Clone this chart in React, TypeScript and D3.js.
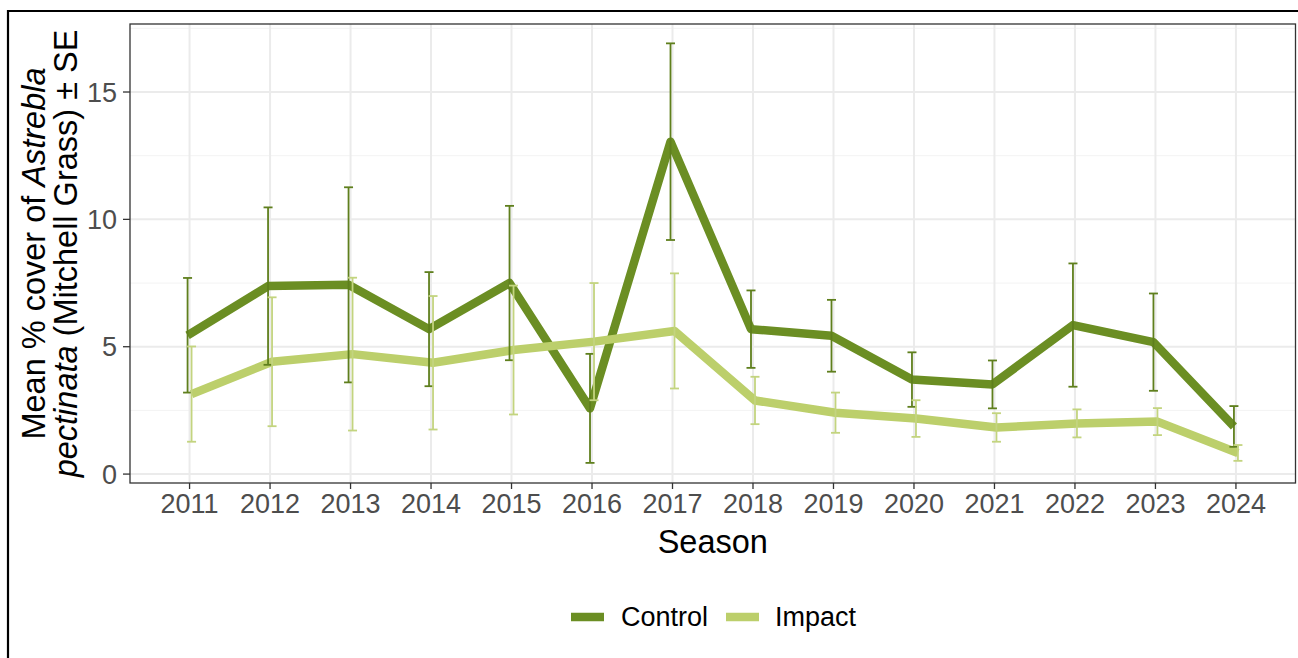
import React from "react";
import * as d3 from "d3";

// Survey seasons and mean % cover (± SE) of Astrebla pectinata per treatment
const seasons = ["2011", "2012", "2013", "2014", "2015", "2016", "2017", "2018", "2019", "2020", "2021", "2022", "2023", "2024"];
const controlMean = [5.45, 7.38, 7.43, 5.69, 7.5, 2.58, 13.05, 5.69, 5.43, 3.71, 3.52, 5.85, 5.18, 1.87];
const controlSE = [2.25, 3.09, 3.83, 2.24, 3.03, 2.14, 3.86, 1.52, 1.41, 1.07, 0.94, 2.42, 1.91, 0.8];
const impactMean = [3.14, 4.41, 4.71, 4.37, 4.87, 5.2, 5.62, 2.89, 2.41, 2.18, 1.83, 1.99, 2.06, 0.83];
const impactSE = [1.87, 2.53, 3.0, 2.62, 2.53, 2.3, 2.26, 0.93, 0.79, 0.72, 0.56, 0.55, 0.53, 0.31];
const yTicks = [0, 5, 10, 15];
const yMinor = [2.5, 7.5, 12.5, 17.5];

const W = 1298;
const H = 658;
const panel = { left: 130, right: 1295.5, top: 24, bottom: 483 };
const FONT = "'Liberation Sans', Arial, sans-serif";

const series = [
  { name: "Control", mean: controlMean, se: controlSE, line: "#6b8e23", bar: "#5f7f1d", dx: -2 },
  { name: "Impact", mean: impactMean, se: impactSE, line: "#bccf6b", bar: "#c3d47f", dx: 2 },
];

export default function App() {
  const x = d3.scalePoint<string>().domain(seasons).range([panel.left, panel.right]).padding(0.74);
  const y = d3.scaleLinear().domain([-0.35, 17.67]).range([panel.bottom, panel.top]);

  const lineGen = (dx: number) =>
    d3
      .line<number>()
      .x((_, i) => (x(seasons[i]) as number) + dx)
      .y((d) => y(d));

  const capHalf = 4.5;
  const cx = (panel.left + panel.right) / 2;
  const cy = (panel.top + panel.bottom) / 2;

  return (
    <svg
      width={W}
      height={H}
      style={{ position: "absolute", left: 0, top: 0, background: "#ffffff" }}
      fontFamily={FONT}
    >
      <rect x={0} y={0} width={W} height={H} fill="#ffffff" />
      {/* outer frame */}
      <line x1={8} x2={8} y1={10} y2={H} stroke="#000" strokeWidth={2.2} />
      <line x1={7} x2={W} y1={11} y2={11} stroke="#000" strokeWidth={2.2} />

      {/* grid */}
      <g>
        {yMinor.map((v) => (
          <line key={"ym" + v} x1={panel.left} x2={panel.right} y1={y(v)} y2={y(v)} stroke="#f3f3f3" strokeWidth={1} />
        ))}
        {yTicks.map((v) => (
          <line key={"yg" + v} x1={panel.left} x2={panel.right} y1={y(v)} y2={y(v)} stroke="#ebebeb" strokeWidth={2} />
        ))}
        {seasons.map((s) => (
          <line key={"xg" + s} x1={x(s)} x2={x(s)} y1={panel.top} y2={panel.bottom} stroke="#ebebeb" strokeWidth={2} />
        ))}
      </g>

      {/* mean lines */}
      {series.map((sr) => (
        <path
          key={"l" + sr.name}
          d={lineGen(sr.dx)(sr.mean) as string}
          fill="none"
          stroke={sr.line}
          strokeWidth={8.5}
          strokeLinejoin="round"
        />
      ))}

      {/* SE error bars */}
      {series.map((sr) => (
        <g key={"e" + sr.name} stroke={sr.bar} strokeWidth={1.8}>
          {sr.mean.map((m, i) => {
            const px = (x(seasons[i]) as number) + sr.dx;
            const hi = y(m + sr.se[i]);
            const lo = y(m - sr.se[i]);
            return (
              <g key={i}>
                <line x1={px} x2={px} y1={hi} y2={lo} />
                <line x1={px - capHalf} x2={px + capHalf} y1={hi} y2={hi} />
                <line x1={px - capHalf} x2={px + capHalf} y1={lo} y2={lo} />
              </g>
            );
          })}
        </g>
      ))}

      {/* panel border */}
      <rect
        x={panel.left}
        y={panel.top}
        width={panel.right - panel.left}
        height={panel.bottom - panel.top}
        fill="none"
        stroke="#333333"
        strokeWidth={1.3}
      />

      {/* y axis */}
      <g>
        {yTicks.map((v) => (
          <g key={"yt" + v}>
            <line x1={panel.left - 7} x2={panel.left} y1={y(v)} y2={y(v)} stroke="#333333" strokeWidth={1.3} />
            <text x={117} y={y(v)} dy="0.36em" textAnchor="end" fontSize={27} fill="#4d4d4d">
              {v}
            </text>
          </g>
        ))}
      </g>

      {/* x axis */}
      <g>
        {seasons.map((s) => (
          <g key={"xt" + s}>
            <line x1={x(s)} x2={x(s)} y1={panel.bottom} y2={panel.bottom + 6} stroke="#333333" strokeWidth={1.3} />
            <text x={x(s)} y={513} textAnchor="middle" fontSize={27} fill="#4d4d4d">
              {s}
            </text>
          </g>
        ))}
      </g>

      {/* axis titles */}
      <text x={cx} y={553} textAnchor="middle" fontSize={32.5} fill="#000">
        Season
      </text>
      <g transform={`translate(45, ${cy}) rotate(-90)`}>
        <text x={0} y={0} textAnchor="middle" fontSize={32.5} fill="#000">
          Mean % cover of <tspan fontStyle="italic">Astrebla</tspan>
        </text>
      </g>
      <g transform={`translate(77, ${cy}) rotate(-90)`}>
        <text x={0} y={0} textAnchor="middle" fontSize={32.5} fill="#000">
          <tspan fontStyle="italic">pectinata</tspan> (Mitchell Grass) ± SE
        </text>
      </g>

      {/* legend */}
      <g>
        <line x1={571} x2={604} y1={617} y2={617} stroke={series[0].line} strokeWidth={8.5} />
        <text x={621} y={626} fontSize={27} fill="#000">
          {series[0].name}
        </text>
        <line x1={726} x2={759} y1={617} y2={617} stroke={series[1].line} strokeWidth={8.5} />
        <text x={775} y={626} fontSize={27} fill="#000">
          {series[1].name}
        </text>
      </g>
    </svg>
  );
}
